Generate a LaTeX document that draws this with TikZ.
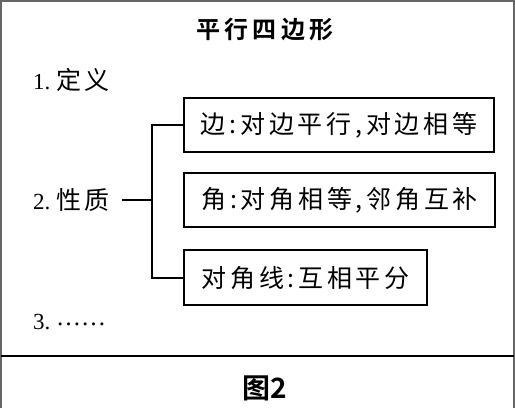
\documentclass[tikz,border=0pt]{standalone}
\usepackage{fontspec}
\setmainfont{Liberation Serif}
\newfontfamily\cjk[LetterSpace=15]{Noto Sans CJK SC}
\newfontfamily\cjkb[LetterSpace=18]{Noto Sans CJK SC Bold}
\newfontfamily\cjkfig{Noto Sans CJK SC Bold}
\newcommand{\boxfont}{\fontsize{25pt}{28pt}\selectfont\cjk}
\newcommand{\lblfont}{\fontsize{23pt}{27pt}\selectfont}
\newcommand{\lblcjk}{\fontsize{25pt}{28pt}\selectfont\cjk}
\newcommand{\titlefont}{\fontsize{24pt}{28pt}\selectfont\cjkb}
\newcommand{\figfont}{\fontsize{28pt}{32pt}\selectfont\cjkfig}
\begin{document}
\begin{tikzpicture}[x=1pt,y=-1pt,
  frame/.style={draw=black!60,line width=1.6pt},
  sep/.style={line width=2.2pt},
  box/.style={draw,line width=2.2pt,anchor=north west,inner sep=0pt,font=\boxfont},
  link/.style={line width=2pt},
  lbl/.style={anchor=west,inner sep=0pt,font=\lblfont}]
\useasboundingbox (0,0) rectangle (515,408);
\fill[white] (0,0) rectangle (515,408);
\draw[frame] (1,408) -- (1,1) -- (514,1) -- (514,408);
\draw[sep] (1,356) -- (514,356);
\node[font=\titlefont] (title) at (265,29) {平行四边形};
\node[lbl] (def) at (33,80) {1.\ {\lblcjk 定义}};
\node[lbl] (prop) at (33,200) {2.\ {\lblcjk 性质}};
\node[lbl] (etc) at (33,322) {3.\ \raisebox{4pt}{\fontsize{25pt}{28pt}\selectfont ……}};
\node[box,minimum width=310pt,minimum height=54pt] (b1) at (183,97) {边:对边平行,对边相等};
\node[box,minimum width=311pt,minimum height=54pt] (b2) at (183,172) {角:对角相等,邻角互补};
\node[box,minimum width=243pt,minimum height=55pt] (b3) at (183,249) {对角线:互相平分};
\coordinate (spine) at (152,0);
\draw[link] (b1.west) -- (b1.west -| spine) -- (b3.west -| spine) -- (b3.west);
\draw[link,shorten <=12pt] (prop.east) -- (prop.east -| spine);
\node[font=\figfont] (fig) at (265,388) {图2};
\end{tikzpicture}
\end{document}
